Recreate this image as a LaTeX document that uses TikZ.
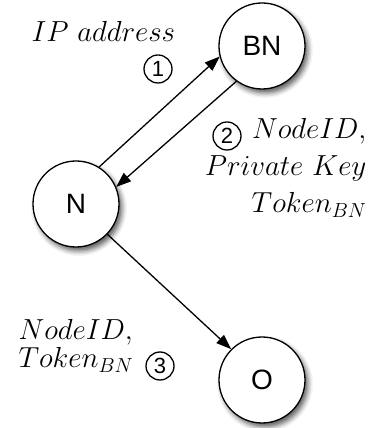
\documentclass[tikz,border=0pt]{standalone}
\usepackage{fix-cm}
\usepackage{fontspec}
\setsansfont{Liberation Sans}
\usetikzlibrary{arrows.meta,shadows.blur}

\begin{document}
\begin{tikzpicture}[x=1pt,y=1pt,
    peer/.style={circle,draw,line width=1.3pt,fill=white,minimum size=86pt,inner sep=0pt,
      font=\sffamily\fontsize{28}{32}\selectfont,
      blur shadow={shadow xshift=3pt,shadow yshift=-4pt,shadow blur radius=5pt,shadow opacity=65}},
    stepnum/.style={circle,draw,line width=1.3pt,minimum size=28pt,inner sep=0pt,
      font=\sffamily\fontsize{22}{24}\selectfont},
    msg/.style={font=\fontsize{29}{37}\selectfont},
    flow/.style={-{Triangle[length=15pt,width=11pt]},line width=1.3pt}]
  \useasboundingbox (0,0) rectangle (376,428);
  % peers
  \node[peer] (BN) at (262,382) {BN};
  \node[peer] (N) at (76,224) {N};
  \node[peer] (O) at (262,48) {O};
  % messages
  \draw[flow] (N.58) -- (BN.194);
  \draw[flow] (BN.234) -- (N.23);
  \draw[flow] (N.-44) -- (O.135);
  % labels
  \node[msg,anchor=base west] (ip) at (28,386) {$IP\ address$};
  \node[stepnum] (s1) at (158,359) {1};
  \node[stepnum] (s2) at (227,292) {2};
  \node[msg,anchor=north east,align=right] (keys) at (370,313)
    {$NodeID,$\\ $Private\ Key$\\ $Token_{BN}$};
  \node[msg,anchor=north west,align=left] (ids) at (15,112)
    {$NodeID,$\\[-9pt] $Token_{BN}$};
  \node[stepnum] (s3) at (160,62) {3};
\end{tikzpicture}
\end{document}
